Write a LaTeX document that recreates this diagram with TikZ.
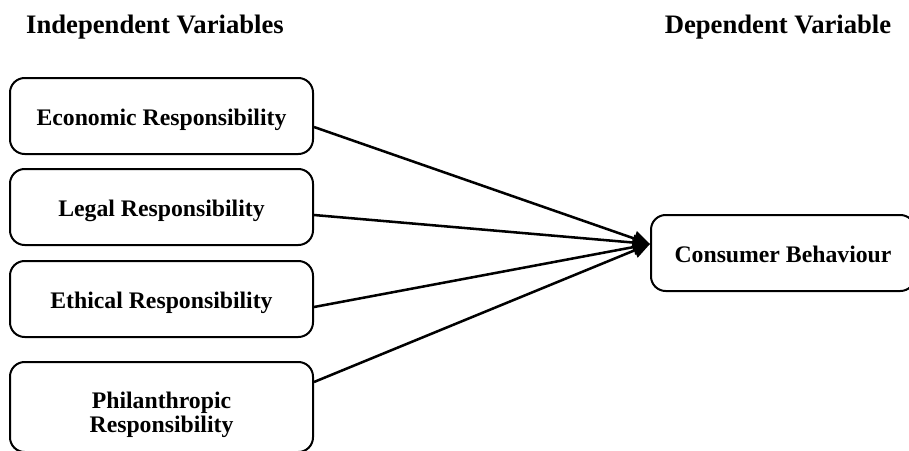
\documentclass[tikz,border=0pt]{standalone}
\usepackage{fontspec}
\setmainfont{Liberation Serif}
\usetikzlibrary{arrows.meta,calc}
\begin{document}
\begin{tikzpicture}[x=0.75pt,y=-0.75pt,
  boxfont/.style={font=\fontsize{17.8}{18}\selectfont\bfseries},
  box/.style={draw, line width=1.5pt, rounded corners=11pt, inner sep=0pt, align=center,
    boxfont, text height=13.5pt, text depth=0pt, minimum width=227.25pt, minimum height=57pt},
  boxtext/.style={boxfont, inner sep=0pt, align=center},
  head/.style={font=\fontsize{20}{22}\selectfont\bfseries, inner sep=0pt, anchor=base},
  link/.style={line width=1.9pt, -{Triangle[length=12.5pt,width=11.5pt]}}]
\useasboundingbox (0,0) rectangle (909,450);
\clip (0,0) rectangle (909,450);

\node[head] (hi) at (155,33) {Independent Variables};
\node[head] (hd) at (778,33) {Dependent Variable};

\node[box] (eco) at (161.5,116) {Economic Responsibility};
\node[box] (leg) at (161.5,207) {Legal Responsibility};
\node[box] (eth) at (161.5,299) {Ethical Responsibility};
\node[box, minimum height=67.5pt] (phi) at (161.5,407) {};
\node[boxtext] (phit) at ($(phi.center)+(0,7.5)$) {Philanthropic\\Responsibility};

\node[box, minimum width=198pt] (cb) at (783,253) {Consumer Behaviour};

\coordinate (tip) at ($(cb.west)+(0,-9)$);
\draw[link] ($(eco.east)+(0,11)$) -- (tip);
\draw[link] ($(leg.east)+(0,8)$) -- (tip);
\draw[link] ($(eth.east)+(0,8)$) -- (tip);
\draw[link] ($(phi.east)+(0,-25)$) -- (tip);
\end{tikzpicture}
\end{document}
